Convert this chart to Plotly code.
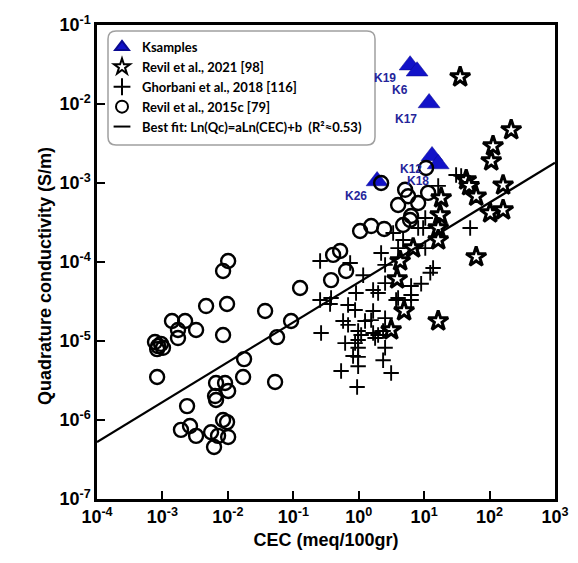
import math
import plotly.graph_objects as go

# ---------------- data ----------------
k_names = ["K19", "K6", "K17", "K12", "K18", "K26"]
k_cec = [6.1, 7.8, 11.9, 13.2, 16.4, 1.91]
k_qc = [3.1e-2, 2.6e-2, 1.03e-2, 2.2e-3, 1.74e-3, 1.06e-3]

revil2021_cec = [35.5, 214, 113, 106, 43.9, 48.7, 62.4, 161, 18.2, 17.6, 102, 161,
                 16.4, 16.4, 6.79, 4.3, 62.4, 3.87, 4.94, 16.4, 3.13]
revil2021_qc = [2.2e-2, 4.7e-3, 2.94e-3, 1.9e-3, 1.09e-3, 9.2e-4, 6.8e-4, 9.4e-4, 6.45e-4,
                3.93e-4, 4.17e-4, 4.55e-4, 2.69e-4, 1.9e-4, 1.5e-4, 1.03e-4, 1.16e-4,
                6.1e-5, 2.4e-5, 1.79e-5, 1.38e-5]

ghorbani_cec = [30.8, 36.8, 16.4, 10.4, 8.1, 9.66, 50.5, 3.36, 4.77, 4.0, 10.4, 2.2,
                0.257, 0.74, 2.53, 13.7, 12.4, 1.17, 2.53, 9.0, 6.32, 6.32, 6.32, 4.0,
                0.257, 0.378, 0.365, 0.91, 1.66, 1.98, 3.73, 0.688, 0.88, 1.66, 2.53,
                0.577, 0.688, 1.25, 1.55, 0.266, 0.98, 1.09, 1.66, 1.98, 2.36, 1.78,
                0.62, 0.88, 0.98, 0.98, 2.53, 0.82, 0.98, 2.36, 0.98, 0.538, 3.13, 0.945]
ghorbani_qc = [1.26e-3, 1.23e-3, 9.2e-4, 3.6e-4, 2.69e-4, 2.69e-4, 2.69e-4, 2.33e-4,
               1.9e-4, 1.5e-4, 1.5e-4, 1.3e-4, 1.03e-4, 9.7e-5, 9.2e-5, 8.4e-5, 7.3e-5,
               6.8e-5, 5.4e-5, 5.3e-5, 4.97e-5, 3.82e-5, 3.3e-5, 3.5e-5, 3.3e-5, 3.5e-5,
               2.94e-5, 4.06e-5, 4.42e-5, 4.06e-5, 3.3e-5, 2.85e-5, 2.47e-5, 2.4e-5,
               1.95e-5, 1.79e-5, 1.6e-5, 1.79e-5, 1.84e-5, 1.26e-5, 1.34e-5, 1.19e-5,
               1.26e-5, 1.19e-5, 1.34e-5, 1.09e-5, 9.4e-6, 9.4e-6, 1.03e-5, 8.2e-6,
               8.2e-6, 6.45e-6, 6.3e-6, 5.7e-6, 4.8e-6, 4.17e-6, 3.93e-6, 2.62e-6]

revil2015_cec = [7.7e-4, 8.6e-4, 9.5e-4, 8.3e-4, 1.02e-3, 8.3e-4, 1.4e-3, 2.22e-3, 1.73e-3,
                 1.73e-3, 3.27e-3, 4.65e-3, 8.45e-3, 9.72e-3, 1.01e-2, 8.45e-3, 2.38e-3,
                 1.92e-3, 2.64e-3, 3.27e-3, 5.54e-3, 7.08e-3, 1.01e-2, 6.15e-3, 8.45e-3,
                 9.72e-3, 6.6e-3, 9.06e-3, 1.01e-2, 6.37e-3, 6.6e-3, 1.77e-2, 1.71e-2,
                 3.71e-2, 5.27e-2, 5.65e-2, 9.25e-2, 0.127, 0.378, 0.641, 0.406, 0.52,
                 1.05, 1.55, 2.45, 2.2, 4.0, 5.12, 5.69, 8.1, 11.5, 10.7, 6.32, 4.77, 6.1]
revil2015_qc = [9.7e-6, 8.6e-6, 9.2e-6, 7.9e-6, 8.2e-6, 3.5e-6, 1.79e-5, 1.79e-5, 1.38e-5,
                1.09e-5, 1.38e-5, 2.77e-5, 1.19e-5, 2.94e-5, 1.03e-4, 7.7e-5, 1.5e-6,
                7.5e-7, 8.4e-7, 6.3e-7, 7.0e-7, 6.3e-7, 6.1e-7, 4.55e-7, 1.0e-6, 9.4e-7,
                2.94e-6, 2.94e-6, 2.33e-6, 2.01e-6, 1.79e-6, 5.9e-6, 3.5e-6, 2.4e-5,
                3.03e-6, 1.12e-5, 1.79e-5, 4.69e-5, 5.9e-5, 7.7e-5, 1.23e-4, 1.38e-4,
                2.47e-4, 2.85e-4, 2.62e-4, 1.0e-3, 5.27e-4, 8.2e-4, 6.8e-4, 5.58e-4,
                7.5e-4, 1.55e-3, 3.82e-4, 2.94e-4, 3.4e-4]

# best fit in log space: log10(Qc) = slope*log10(CEC) + intercept
fit_slope = 0.505
fit_intercept = -4.258
fit_cec = [1e-4, 1e3]
fit_qc = [10 ** (fit_slope * math.log10(c) + fit_intercept) for c in fit_cec]
fit_label = "Best fit: Ln(Qc)=aLn(CEC)+b  (R\u00b2\u22480.53)"

x_exponents = [-4, -3, -2, -1, 0, 1, 2, 3]
y_exponents = [-7, -6, -5, -4, -3, -2, -1]

x_title = "CEC (meq/100gr)"
y_title = "Quadrature conductivity (S/m)"

# label offsets (pixels) for K sample names
k_label_dx = [-25, -17, -23, -21, -20, -21]
k_label_dy = [-13, -19, -16, -13, -17, -15]

# ---------------- layout geometry ----------------
W, H = 578, 563
ML, MR, MT, MB = 89, 31, 17, 72
PW, PH = W - ML - MR, H - MT - MB

def px2paper(px, py):
    return (px - ML) / PW, (H - MB - py) / PH

# ---------------- figure ----------------
fig = go.Figure()

fig.add_trace(go.Scatter(
    x=k_cec, y=k_qc, mode="markers", name="Ksamples",
    marker=dict(symbol="triangle-up", size=19, color="#1212c8",
                line=dict(color="#0a0a90", width=0.5))))

fig.add_trace(go.Scatter(
    x=revil2021_cec, y=revil2021_qc, mode="markers", name="Revil et al., 2021 [98]",
    marker=dict(symbol="star", size=15, color="white",
                line=dict(color="black", width=3))))

fig.add_trace(go.Scatter(
    x=ghorbani_cec, y=ghorbani_qc, mode="markers", name="Ghorbani et al., 2018 [116]",
    marker=dict(symbol="cross-thin-open", size=11, color="black",
                line=dict(color="black", width=1.9))))

fig.add_trace(go.Scatter(
    x=revil2015_cec, y=revil2015_qc, mode="markers", name="Revil et al., 2015c [79]",
    marker=dict(symbol="circle-open", size=14, color="black",
                line=dict(color="black", width=2.4))))

fig.add_trace(go.Scatter(
    x=fit_cec, y=fit_qc, mode="lines", name=fit_label, showlegend=False,
    line=dict(color="black", width=2.2)))

# legend-only entry with a short line symbol (no data drawn)
fig.add_trace(go.Scatter(
    x=[None], y=[None], mode="markers", name=fit_label,
    marker=dict(symbol="line-ew-open", size=14, color="black",
                line=dict(color="black", width=2.6))))

for name, c, q, dx, dy in zip(k_names, k_cec, k_qc, k_label_dx, k_label_dy):
    fig.add_annotation(x=math.log10(c), y=math.log10(q), text=f"<b>{name}</b>",
                       showarrow=False, xshift=dx, yshift=dy,
                       font=dict(family="Liberation Sans, Arial", size=12, color="#25259a"))

# rounded legend frame
lx0, lx1, ly0, ly1 = 100, 367, 23, 137
r = 8
def P(px, py):
    x, y = px2paper(px, py)
    return f"{x:.5f},{y:.5f}"
path = (f"M {P(lx0 + r, ly0)} L {P(lx1 - r, ly0)} Q {P(lx1, ly0)} {P(lx1, ly0 + r)} "
        f"L {P(lx1, ly1 - r)} Q {P(lx1, ly1)} {P(lx1 - r, ly1)} "
        f"L {P(lx0 + r, ly1)} Q {P(lx0, ly1)} {P(lx0, ly1 - r)} "
        f"L {P(lx0, ly0 + r)} Q {P(lx0, ly0)} {P(lx0 + r, ly0)} Z")
fig.add_shape(type="path", path=path, xref="paper", yref="paper",
              fillcolor="white", line=dict(color="#a0a0a0", width=1.5), layer="above")

axis_font = dict(family="Liberation Sans, Arial", size=18, color="black")
title_font = dict(family="Liberation Sans, Arial", size=18, color="black")

fig.update_xaxes(type="log", range=[-4, 3],
                 tickvals=[10 ** e for e in x_exponents],
                 ticktext=[f"<b>10<sup>{e}</sup></b>" for e in x_exponents],
                 ticks="inside", ticklen=8, tickwidth=2.2, tickcolor="black",
                 showline=True, linewidth=2.5, linecolor="black", mirror=True,
                 showgrid=False, zeroline=False, tickfont=axis_font, automargin=False,
                 title=dict(text=f"<b>{x_title}</b>", font=title_font, standoff=8))
fig.update_yaxes(type="log", range=[-7, -1],
                 tickvals=[10 ** e for e in y_exponents],
                 ticktext=[f"<b>10<sup>{e}</sup></b>" for e in y_exponents],
                 ticks="inside", ticklen=8, tickwidth=2.2, tickcolor="black",
                 showline=True, linewidth=2.5, linecolor="black", mirror=True,
                 showgrid=False, zeroline=False, tickfont=axis_font, automargin=False)

tx, ty = px2paper(25, 268)
fig.add_annotation(x=tx, y=ty, xref="paper", yref="paper", text=f"<b>{y_title}</b>",
                   textangle=-90, showarrow=False,
                   font=dict(family="Liberation Sans, Arial", size=18, color="black"))

fig.update_layout(
    width=W, height=H, autosize=False,
    margin=dict(l=ML, r=MR, t=MT, b=MB),
    plot_bgcolor="white", paper_bgcolor="white",
    showlegend=True,
    legend=dict(x=(94 - ML) / PW, y=(H - MB - 24) / PH, xanchor="left", yanchor="top",
                bgcolor="rgba(0,0,0,0)", borderwidth=0,
                itemsizing="constant", itemwidth=30, tracegroupgap=0,
                font=dict(family="Lato, Liberation Sans", size=13, color="black", weight="bold")),
)

fig.write_html("out.html")
